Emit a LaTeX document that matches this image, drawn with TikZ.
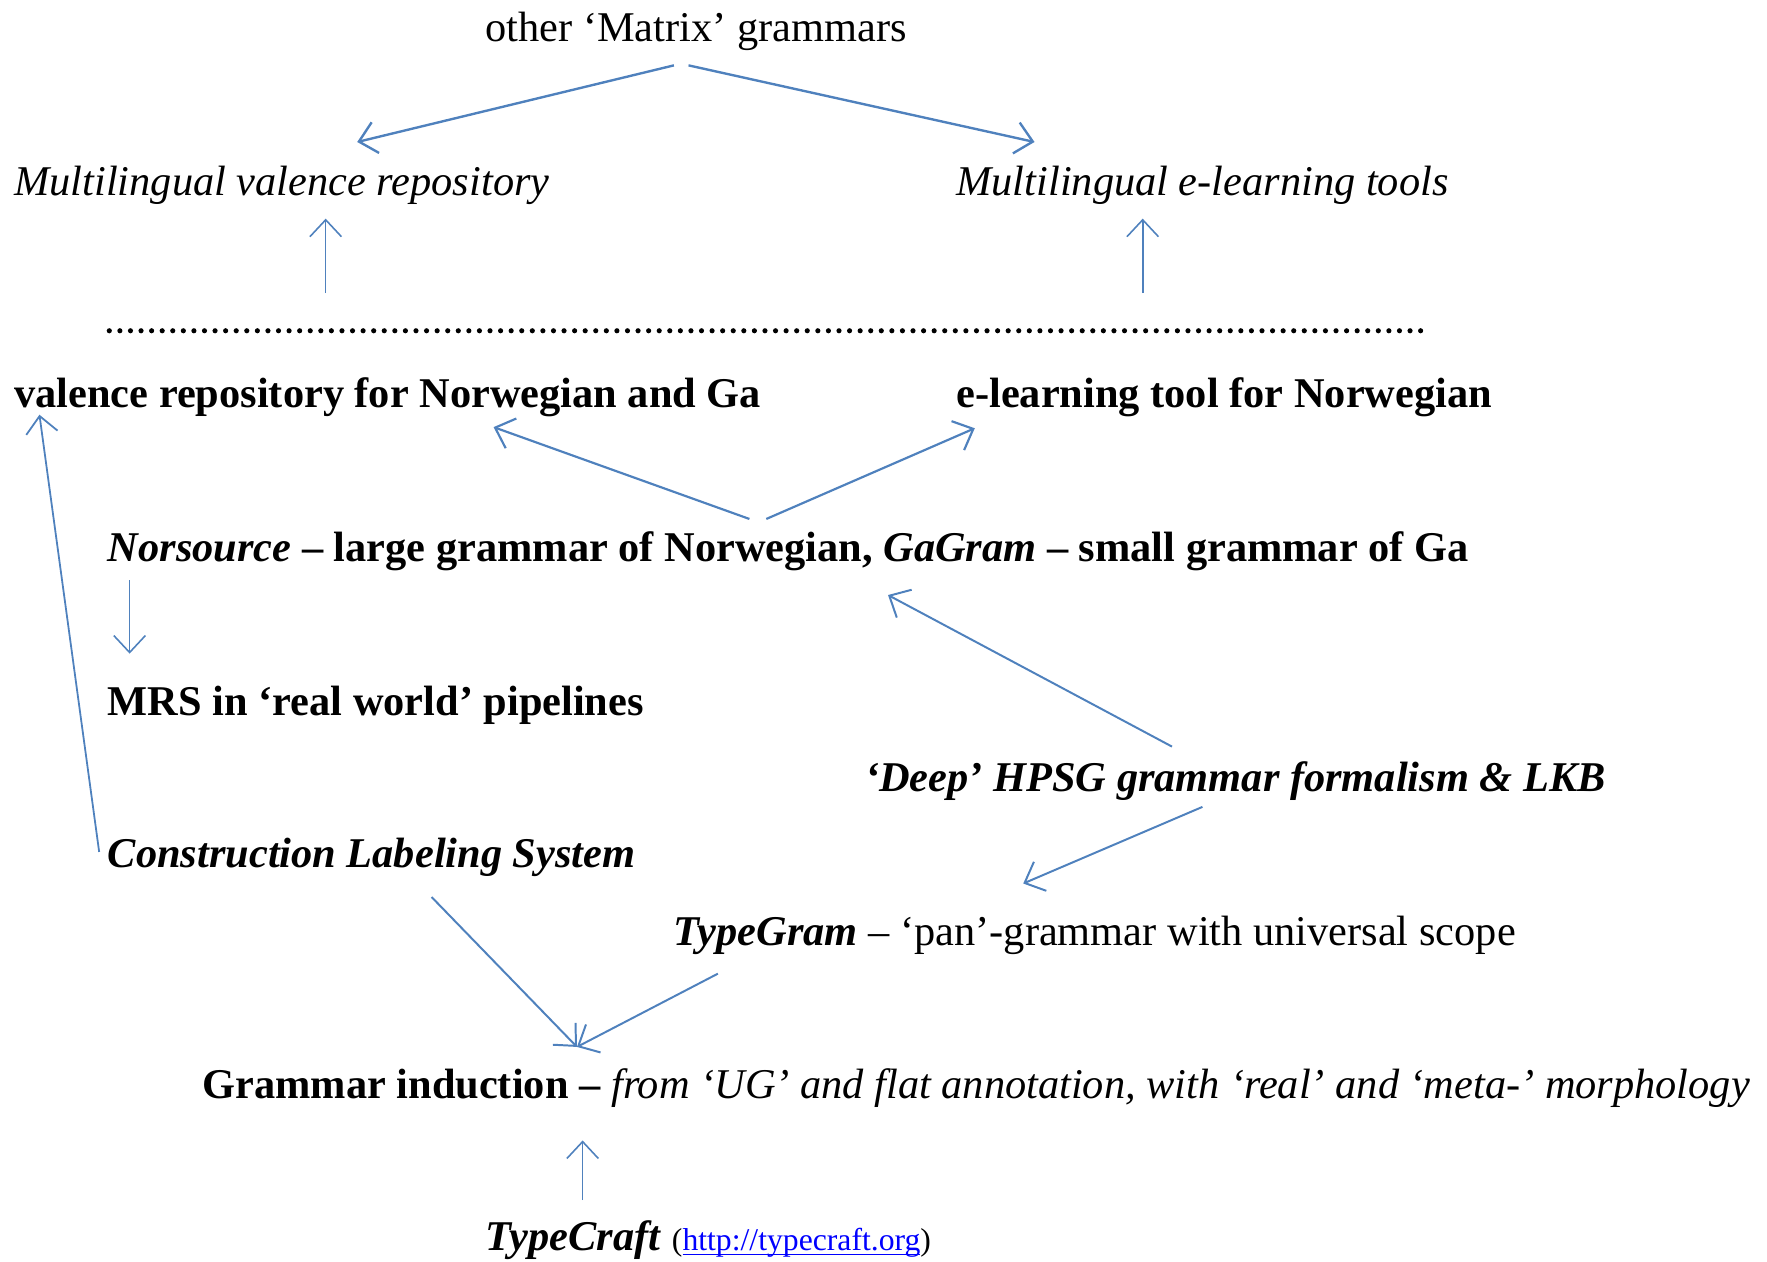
\documentclass[tikz,border=0pt]{standalone}
\usepackage{fontspec}
\setmainfont{Liberation Serif}
\usetikzlibrary{arrows.meta}
\definecolor{arrowblue}{HTML}{4F81BD}
\newcommand{\bi}[1]{\textbf{\textit{#1}}}
\newcommand{\linkline}[1]{\setbox0\hbox{#1}\rlap{\rule[-1.1pt]{\wd0}{0.4pt}}\box0}

\begin{document}
\begin{tikzpicture}[every node/.style={font=\fontsize{10.7}{13}\selectfont,
  inner sep=0pt,anchor=base west},
  >={Straight Barb[length=1.5mm,width=2.8mm]}]
\useasboundingbox (0,0) rectangle (15.68,-11.19);
% texts
\node (other) at (4.30,-0.37) {other ‘Matrix’ grammars};
\node (mvr) at (0.12,-1.735) {\textit{Multilingual valence repository}};
\node (mel) at (8.48,-1.735) {\textit{Multilingual e-learning tools}};
\node (vrep) at (0.12,-3.615) {\textbf{valence repository for Norwegian and Ga}};
\node (elt) at (8.48,-3.615) {\textbf{e-learning tool for Norwegian}};
\node (nors) at (0.95,-4.98) {\bi{Norsource} \textbf{– large grammar of Norwegian,} \bi{GaGram} \textbf{– small grammar of Ga}};
\node (mrs) at (0.95,-6.345) {\textbf{MRS in ‘real world’ pipelines}};
\node (deep) at (7.67,-7.02) {\bi{‘Deep’ HPSG grammar formalism \& LKB}};
\node (cls) at (0.95,-7.695) {\bi{Construction Labeling System}};
\node (tgram) at (5.97,-8.39) {\bi{TypeGram} – ‘pan’-grammar with universal scope};
\node (gind) at (1.79,-9.745) {\textbf{Grammar induction –} \textit{from ‘UG’ and flat annotation, with ‘real’ and ‘meta-’ morphology}};
\node (tcraft) at (4.30,-11.10) {\bi{TypeCraft} {\fontsize{8}{10}\selectfont(\textcolor{blue}{\linkline{http://typecraft.org}})}};
% arrow ends
\coordinate (oth-l) at (5.98,-0.58);
\coordinate (oth-r) at (6.11,-0.58);
\coordinate (mvr-b) at (3.17,-1.26);
\coordinate (mel-b) at (9.18,-1.26);
\coordinate (dot-l) at (0.97,-2.935);
\coordinate (dot-r) at (12.65,-2.935);
\coordinate (up-l0) at (2.89,-2.60);
\coordinate (up-l1) at (2.89,-1.94);
\coordinate (up-r0) at (10.14,-2.60);
\coordinate (up-r1) at (10.14,-1.94);
\coordinate (nors-tl) at (6.65,-4.605);
\coordinate (nors-tr) at (6.80,-4.605);
\coordinate (vrep-b) at (4.38,-3.79);
\coordinate (elt-b) at (8.65,-3.80);
\coordinate (nors-b) at (1.15,-5.15);
\coordinate (mrs-t) at (1.15,-5.80);
\coordinate (nors-br) at (7.88,-5.28);
\coordinate (deep-t) at (10.40,-6.625);
\coordinate (deep-b) at (10.67,-7.16);
\coordinate (tgram-t) at (9.08,-7.84);
\coordinate (cls-l) at (0.88,-7.56);
\coordinate (vrep-l) at (0.35,-3.68);
\coordinate (cls-b) at (3.83,-7.96);
\coordinate (tgram-b) at (6.37,-8.64);
\coordinate (gind-t) at (5.12,-9.29);
\coordinate (gind-b) at (5.17,-10.12);
\coordinate (tcraft-t) at (5.17,-10.65);
% dotted line
\draw[line width=1.3pt,line cap=round,dash pattern=on 0pt off 2.67pt] (dot-l) -- (dot-r);
% arrows
\draw[->,arrowblue,line width=0.6pt] (oth-l) -- (mvr-b);
\draw[->,arrowblue,line width=0.6pt] (oth-r) -- (mel-b);
\draw[->,arrowblue,line width=0.4pt] (up-l0) -- (up-l1);
\draw[->,arrowblue,line width=0.4pt] (up-r0) -- (up-r1);
\draw[->,arrowblue,line width=0.55pt] (nors-tl) -- (vrep-b);
\draw[->,arrowblue,line width=0.55pt] (nors-tr) -- (elt-b);
\draw[->,arrowblue,line width=0.4pt] (nors-b) -- (mrs-t);
\draw[->,arrowblue,line width=0.5pt] (deep-t) -- (nors-br);
\draw[->,arrowblue,line width=0.5pt] (deep-b) -- (tgram-t);
\draw[->,arrowblue,line width=0.45pt] (cls-l) -- (vrep-l);
\draw[->,arrowblue,line width=0.5pt] (cls-b) -- (gind-t);
\draw[->,arrowblue,line width=0.5pt] (tgram-b) -- (gind-t);
\draw[->,arrowblue,line width=0.4pt] (tcraft-t) -- (gind-b);
\end{tikzpicture}
\end{document}
